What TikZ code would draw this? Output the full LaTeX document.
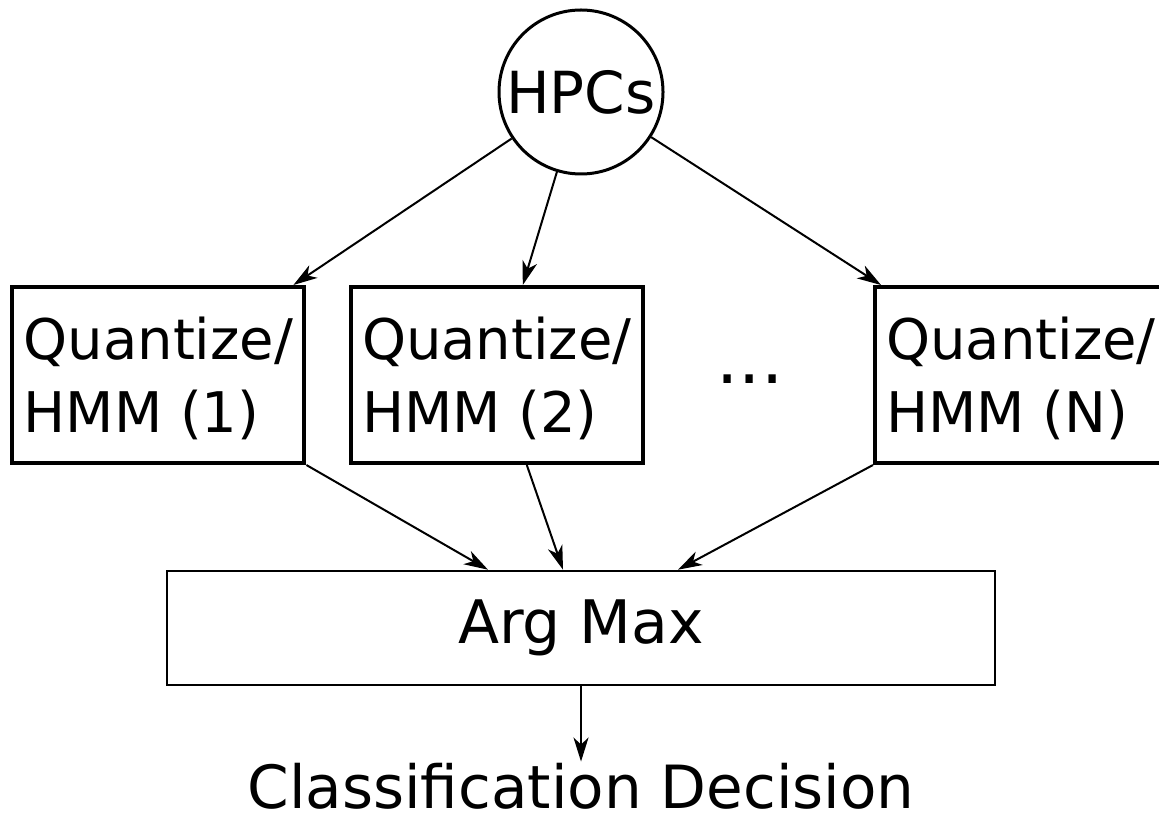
\documentclass[tikz,border=0pt]{standalone}
\usepackage{fontspec}
\setmainfont{DejaVu Sans}
\usetikzlibrary{arrows.meta}

\begin{document}
\begin{tikzpicture}[
    every node/.style={font=\fontsize{29}{36}\selectfont},
    hmmbox/.style={draw, line width=2pt, minimum width=146pt, minimum height=88pt,
      inner sep=0pt, align=left, text depth=-1.5pt,
      font=\fontsize{28}{36.5}\selectfont},
    link/.style={-{Stealth[length=12pt,width=7.5pt,inset=3.5pt]}, line width=1pt}
  ]
  \useasboundingbox (0pt,0pt) rectangle (579.5pt,410pt);

  \node[draw, circle, line width=1.5pt, minimum size=82pt, inner sep=0pt]
    (hpcs) at (290.5pt,364pt) {HPCs};

  \node[hmmbox] (q1) at ( 79.2pt,222.5pt) {Quantize/\\HMM (1)};
  \node[hmmbox] (q2) at (248.4pt,222.5pt) {Quantize/\\HMM (2)};
  \node[font=\fontsize{35}{40}\selectfont] (dots) at (375pt,220.5pt) {...};
  \node[hmmbox] (qn) at (510.5pt,222.5pt) {Quantize/\\HMM (N)};

  \node[draw, line width=1.3pt, minimum width=414pt, minimum height=57pt,
    font=\fontsize{30}{36}\selectfont] (argmax) at (290.5pt,96pt) {Arg Max};
  \node[inner sep=0.5pt, font=\fontsize{29.8}{36}\selectfont]
    (decision) at (290.5pt,17pt) {Classification Decision};

  %% HPCs fan out to every model
  \draw[link] (hpcs) -- ([xshift=-6.5pt]q1.north east);
  \draw[link] (hpcs) -- ([xshift=13pt]q2.north);
  \draw[link] (hpcs) -- ([xshift=4pt]qn.north west);

  %% model outputs into the arg max
  \draw[link] (q1.south east) -- ([xshift=-46.5pt]argmax.north);
  \draw[link] ([xshift=15pt]q2.south) -- ([xshift=-9pt]argmax.north);
  \draw[link] (qn.south west) -- ([xshift=48.5pt]argmax.north);

  \draw[link] (argmax) -- (decision);
\end{tikzpicture}
\end{document}
